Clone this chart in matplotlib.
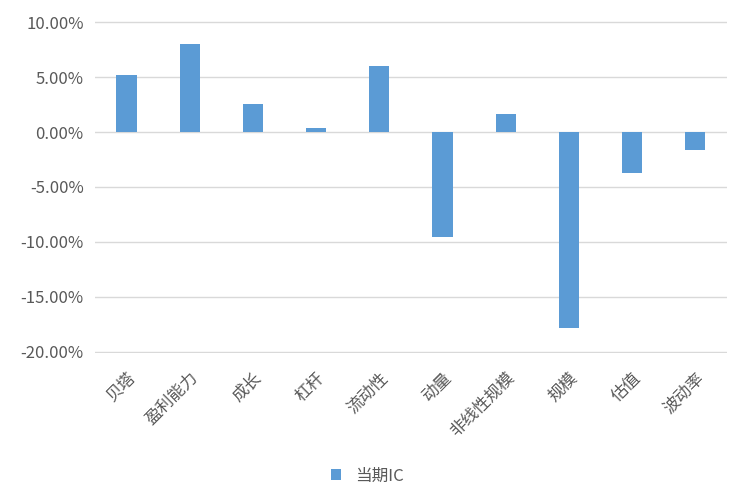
import matplotlib
matplotlib.use("Agg")
import matplotlib.pyplot as plt
from matplotlib.ticker import FuncFormatter

plt.rcParams['font.family'] = ['Noto Sans CJK SC', 'DejaVu Sans']

categories = ['贝塔', '盈利能力', '成长', '杠杆', '流动性', '动量', '非线性规模', '规模', '估值', '波动率']
ic_values = [5.2, 8.0, 2.6, 0.4, 6.0, -9.6, 1.6, -17.8, -3.7, -1.6]
series_name = '当期IC'

fig = plt.figure(figsize=(7.35, 4.92), dpi=100)
ax = fig.add_axes([0.129, 0.283, 0.86, 0.674])
x = range(len(categories))
ax.bar(x, ic_values, width=0.32, color='#5B9BD5', label=series_name, zorder=3)
ax.set_ylim(-20.1, 10.1)
ax.set_yticks(range(-20, 11, 5))
ax.yaxis.set_major_formatter(FuncFormatter(lambda v, p: f'{v:.2f}%'))
ax.grid(axis='y', color='#D9D9D9', linewidth=1, zorder=0)
ax.set_xlim(-0.5, len(categories) - 0.5)
for s in ax.spines.values():
    s.set_visible(False)
ax.tick_params(axis='both', length=0, labelsize=12, colors='#595959')
ax.tick_params(axis='y', pad=8)
ax.set_xticks(list(x))
ax.set_xticklabels(categories, rotation=45, ha='right', rotation_mode='anchor', fontsize=12)
ax.tick_params(axis='x', pad=12)
fig.legend(loc='lower center', bbox_to_anchor=(0.5, -0.015), frameon=False, fontsize=12,
           handlelength=0.6, handleheight=0.6, labelcolor='#595959')
fig.savefig('out.png', dpi=100)
